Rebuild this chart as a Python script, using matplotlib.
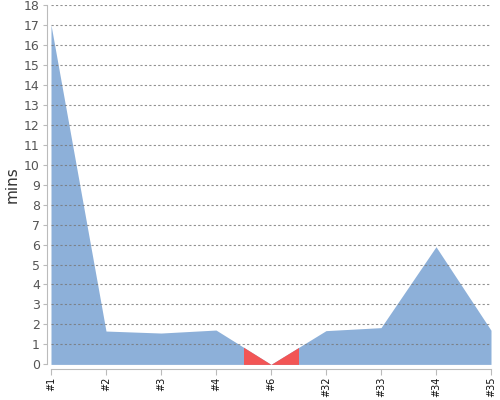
import numpy as np
import matplotlib
matplotlib.use('Agg')
import matplotlib.pyplot as plt

# chart data
labels = ['#1', '#2', '#3', '#4', '#6', '#32', '#33', '#34', '#35']
values = [17.0, 1.67, 1.57, 1.72, 0.0, 1.69, 1.84, 5.89, 1.71]
flagged = ['#6']
y_ticks = list(range(0, 19))

BLUE = '#8db0d9'
RED = '#f25555'

fig = plt.figure(figsize=(5, 4), dpi=100)
ax = fig.add_axes([0.102, 0.089, 0.88, 0.899])

x = np.arange(len(labels))
y = np.array(values)
ax.fill_between(x, 0, y, color=BLUE, lw=0, zorder=2)

# highlight the half-segments around flagged points
for lab in flagged:
    i = labels.index(lab)
    xs = np.array([max(i - 0.5, 0), i, min(i + 0.5, len(labels) - 1)])
    ys = np.interp(xs, x, y)
    ax.fill_between(xs, 0, ys, color=RED, lw=0, zorder=3)

ax.set_xlim(0, len(labels) - 1)
ax.set_ylim(0, 18)
ax.set_yticks(y_ticks)
ax.set_xticks(x)
ax.set_xticklabels(labels)
ax.tick_params(axis='y', labelsize=9, labelcolor='#555555', color='#bbbbbb', length=3, pad=2)
ax.tick_params(axis='x', labelsize=7, labelcolor='#111111', color='#bbbbbb',
               length=4, pad=2, labelrotation=90)

for yy in y_ticks[1:]:
    ax.axhline(yy, color='#777777', lw=0.8, ls=(0, (2, 2)), alpha=0.8, zorder=4)

for s in ['top', 'right']:
    ax.spines[s].set_visible(False)
ax.spines['left'].set_position(('outward', 3))
ax.spines['bottom'].set_position(('outward', 3))
ax.spines['left'].set_color('#bbbbbb')
ax.spines['bottom'].set_color('#bbbbbb')

ax.set_ylabel('mins', fontsize=11, color='#333333', labelpad=3)

fig.savefig('out.png', dpi=100)
